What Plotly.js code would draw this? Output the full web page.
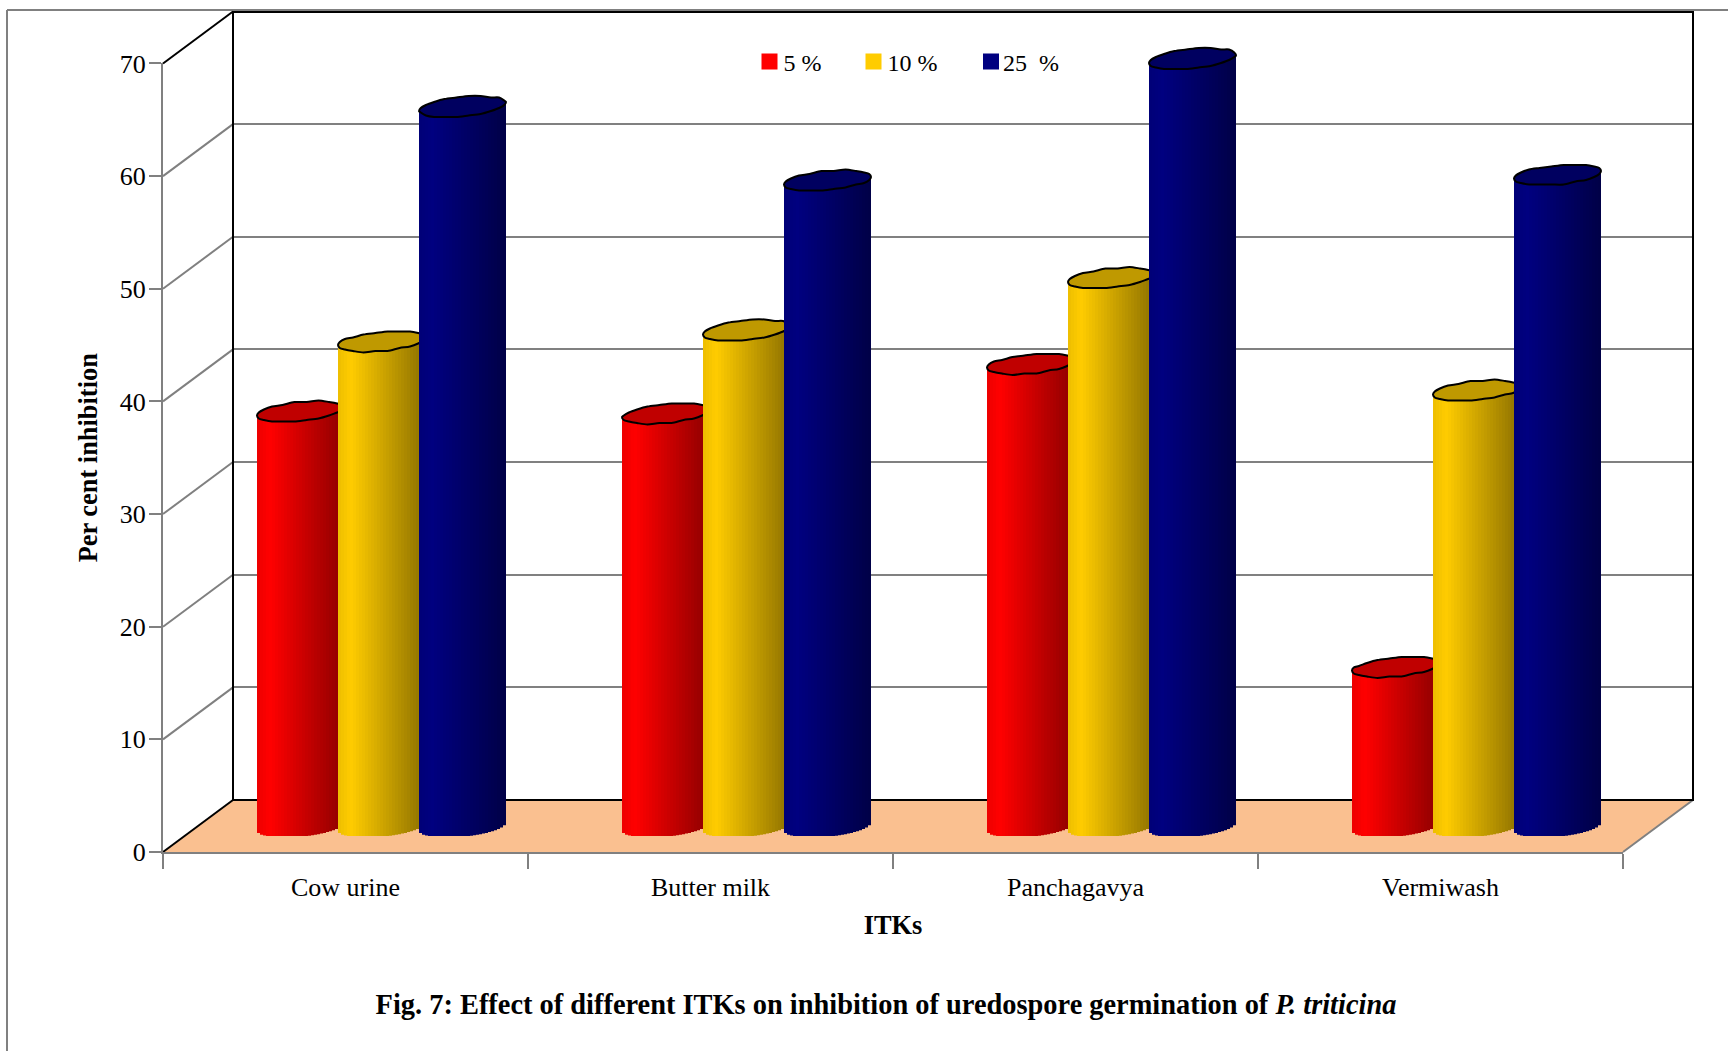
<!DOCTYPE html>
<html>
<head>
<meta charset="utf-8">
<script src="https://cdn.plot.ly/plotly-3.0.1.min.js"></script>
<style>
html,body{margin:0;padding:0;background:#fff}
#chart{width:1728px;height:1051px}
/* Tighter gap between each legend swatch and its label */
#chart .legendtext,#chart .legend2text{transform:translateX(-6px)}
#chart .legend3text{transform:translateX(-8px)}
</style>
</head>
<body>
<div id="chart"></div>
<script>
// Per cent inhibition of uredospore germination by ITK and concentration
const categories = ['Cow urine', 'Butter milk', 'Panchagavya', 'Vermiwash'];
const conc5 = [36.85, 36.65, 41.05, 14.15];
const conc10 = [43.05, 44.05, 48.7, 38.7];
const conc25 = [63.9, 57.35, 68.15, 57.85];
const yTicks = [0, 10, 20, 30, 40, 50, 60, 70];
const legendNames = ['5 %', '10 %', '25  %'];

const W = 1728, H = 1051;
const FONT = '"Liberation Serif", "Times New Roman", serif';
const GREY = '#808080';
const PPU = 11.265;            // pixels per percentage point
const BAND = 365;              // pixels per category
const DEPTH_X = 70, DEPTH_Y = 52;
const FRONT = {x0: 163, y0: 852};
const MID = {x0: 199, y0: 826.5};
const BACK = {x0: 233, y0: 800};
const CYL_W = 87, SLICE = 3, CAP_B = 9.6, TILT = 4;
const SERIES_OFFSET = 81;      // pixels between neighbouring cylinders

const xDom = o => [o.x0 / W, (o.x0 + BAND * 4) / W];
const yDom = (o, low) => [1 - (o.y0 + low * PPU) / H, 1 - (o.y0 - 70 * PPU) / H];
const rgb = (c, f) => `rgb(${c.map(v => Math.round(v * f)).join(',')})`;

// Horizontal shading across a cylinder, t runs from 0 (left) to 1 (right)
function shade(t) {
  return t < 0.15 ? 0.93 + 0.07 * t / 0.15 : 1 - 0.45 * (t - 0.15) / 0.85;
}

// One shaded barrel per value, built from narrow bars that share the value's scale
function barrelTrace(values, base, seriesPos, axisIdx) {
  const x = [], y = [], b = [], color = [];
  const n = Math.round(CYL_W / SLICE);
  values.forEach((v, i) => {
    for (let k = 0; k < n; k++) {
      const px = -CYL_W / 2 + SLICE * (k + 0.5);
      const u = px / (CYL_W / 2);
      const lift = TILT * u;
      const lower = (lift - Math.min(10.3 * Math.sqrt(1 - u * u), 9.4 + lift)) / PPU;
      const top = v + lift / PPU;
      x.push(i + (seriesPos * SERIES_OFFSET + px) / BAND);
      b.push(lower);
      y.push(top - lower);
      color.push(rgb(base, shade((k + 0.5) / n)));
    }
  });
  return {type: 'bar', x, y, base: b, width: SLICE / BAND, showlegend: false, hoverinfo: 'skip',
    marker: {color, line: {width: 0}}, xaxis: 'x' + axisIdx, yaxis: 'y' + axisIdx};
}

// Dark slanted caps on top of each barrel; snapping to a coarse pixel grid gives the rim its slight ripple
function capTrace(values, capColor, seriesPos, axisIdx) {
  const x = [], y = [];
  const steps = 22;
  values.forEach((v, i) => {
    const centrePy = MID.y0 - v * PPU;
    for (let s = 0; s <= steps; s++) {
      const th = 2 * Math.PI * (s % steps) / steps;
      const cx = CYL_W / 2 * Math.cos(th);
      const cy = CAP_B * Math.sin(th) + TILT * Math.cos(th);
      const py = Math.round((centrePy - cy) / 1.5) * 1.5;
      x.push(i + (seriesPos * SERIES_OFFSET + cx) / BAND);
      y.push((MID.y0 - py) / PPU);
    }
    x.push(null); y.push(null);
  });
  return {type: 'scatter', mode: 'lines', x, y, fill: 'toself', fillcolor: capColor, hoverinfo: 'skip',
    line: {color: '#000', width: 2, shape: 'spline', smoothing: 0.8}, showlegend: false, connectgaps: false,
    xaxis: 'x' + axisIdx, yaxis: 'y' + axisIdx};
}

const bases = [[255, 0, 0], [255, 204, 0], [0, 0, 128]];
const caps = ['#c00000', '#bf9900', '#000060'];
const allValues = [conc5, conc10, conc25];

const traces = [
  // Back wall carries the horizontal grid
  {type: 'scatter', x: [0], y: [10], mode: 'markers', marker: {opacity: 0}, showlegend: false, hoverinfo: 'skip'},
  // Front edge carries the labelled axes
  {type: 'scatter', x: categories, y: categories.map(() => 0), mode: 'markers', marker: {opacity: 0},
    showlegend: false, hoverinfo: 'skip', xaxis: 'x2', yaxis: 'y2'}
];
allValues.forEach((vals, s) => {
  traces.push(barrelTrace(vals, bases[s], s - 1, s + 3));
  traces.push(capTrace(vals, caps[s], s - 1, s + 3));
});
legendNames.forEach((name, s) => {
  traces.push({type: 'scatter', mode: 'markers', x: [null], y: [null], name,
    marker: {symbol: 'square', size: 16, color: rgb(bases[s], 1)},
    legend: s === 0 ? 'legend' : 'legend' + (s + 1), hoverinfo: 'skip'});
});

// Side-wall grid lines, floor and the frame round the figure
const px = v => v / W, py = v => 1 - v / H;
const line = (x0, y0, x1, y1, color, width) => ({type: 'line', xref: 'paper', yref: 'paper', layer: 'below',
  x0: px(x0), y0: py(y0), x1: px(x1), y1: py(y1), line: {color, width}});
const right = FRONT.x0 + BAND * 4;
const shapes = [
  {type: 'path', xref: 'paper', yref: 'paper', layer: 'below', line: {width: 0}, fillcolor: '#fac090',
    path: `M${px(FRONT.x0)},${py(FRONT.y0)}L${px(BACK.x0)},${py(BACK.y0)}L${px(right + DEPTH_X)},${py(BACK.y0)}L${px(right)},${py(FRONT.y0)}Z`},
  line(7, 10, W, 10, GREY, 2),
  line(7, 10, 7, H, GREY, 2),
  line(right, FRONT.y0, right + DEPTH_X, FRONT.y0 - DEPTH_Y, GREY, 2)
];
yTicks.forEach(v => {
  const yy = FRONT.y0 - v * PPU;
  const edge = v === 0 || v === 70;
  shapes.push(line(FRONT.x0, yy, FRONT.x0 + DEPTH_X, yy - DEPTH_Y, edge ? '#000' : GREY, 2));
});

const hiddenX = o => ({domain: xDom(o), range: [-0.5, 3.5], visible: false, fixedrange: true});
const hiddenY = {domain: yDom(MID, 3), range: [-3, 70], visible: false, fixedrange: true};
const legendBase = {orientation: 'h', y: 1 - 62 / H, yanchor: 'middle', xanchor: 'left', bgcolor: 'rgba(0,0,0,0)',
  font: {family: FONT, size: 24, color: '#000'}, itemsizing: 'trace', borderwidth: 0};

// The wall's outline sits just outside its domain, so the domain is inset by a pixel on each side
const wallInset = {l: 1, r: 1, b: 1, t: 1.5};
const wallTop = BACK.y0 - 70 * PPU + wallInset.t;

const layout = {
  width: W, height: H, autosize: false,
  margin: {l: 0, r: 0, t: 0, b: 0},
  paper_bgcolor: '#fff', plot_bgcolor: 'rgba(0,0,0,0)',
  font: {family: FONT, color: '#000'},
  barmode: 'overlay',
  hovermode: false,
  title: {text: '<b>Fig. 7: Effect of different ITKs on inhibition of uredospore germination of <i>P. triticina</i></b>',
    font: {family: FONT, size: 28.4, color: '#000'}, x: 886 / W, xanchor: 'center', xref: 'paper',
    y: 1 - 1004 / H, yanchor: 'middle', yref: 'container'},
  xaxis: {domain: [(BACK.x0 + wallInset.l) / W, (BACK.x0 + BAND * 4 - wallInset.r) / W],
    range: [-0.5 + wallInset.l / BAND, 3.5 - wallInset.r / BAND], showticklabels: false, ticks: '', showgrid: false, zeroline: false,
    showline: true, mirror: true, linecolor: '#000', linewidth: 2, fixedrange: true},
  yaxis: {domain: [1 - (BACK.y0 - wallInset.b) / H, 1 - wallTop / H],
    range: [wallInset.b / PPU, 70 - wallInset.t / PPU], tickvals: yTicks, showticklabels: false, ticks: '', showgrid: true,
    gridcolor: GREY, gridwidth: 2, zeroline: false, showline: true, mirror: true, linecolor: '#000', linewidth: 2, fixedrange: true},
  xaxis2: {domain: xDom(FRONT), anchor: 'y2', type: 'category', categoryarray: categories, categoryorder: 'array',
    range: [-0.5, 3.5], tickson: 'boundaries', ticks: 'outside', ticklen: 15, tickwidth: 2, tickcolor: GREY,
    showline: true, linecolor: GREY, linewidth: 2, showgrid: false, zeroline: false, fixedrange: true,
    ticklabelstandoff: 11,
    tickfont: {family: FONT, size: 26, color: '#000'},
    title: {text: '<b>ITKs</b>', font: {family: FONT, size: 26.4, color: '#000'}, standoff: 14}},
  yaxis2: {domain: yDom(FRONT, 0), anchor: 'x2', range: [0, 70], tickvals: yTicks, ticks: 'outside', ticklen: 12, tickwidth: 2,
    tickcolor: GREY, showline: true, linecolor: GREY, linewidth: 2, showgrid: false, zeroline: false, fixedrange: true,
    ticklabelstandoff: -2,
    tickfont: {family: FONT, size: 26, color: '#000'},
    title: {text: '<b>Per cent inhibition</b>', font: {family: FONT, size: 26.4, color: '#000'}, standoff: 15}},
  shapes,
  legend: {...legendBase, x: 749.5 / W},
  legend2: {...legendBase, x: 853.5 / W},
  legend3: {...legendBase, x: 971 / W}
};
[3, 4, 5].forEach(i => {
  layout['xaxis' + i] = {...hiddenX(MID), anchor: 'y' + i};
  layout['yaxis' + i] = {...hiddenY, anchor: 'x' + i};
});

Plotly.newPlot('chart', traces, layout, {displayModeBar: false, staticPlot: true});
</script>
</body>
</html>
